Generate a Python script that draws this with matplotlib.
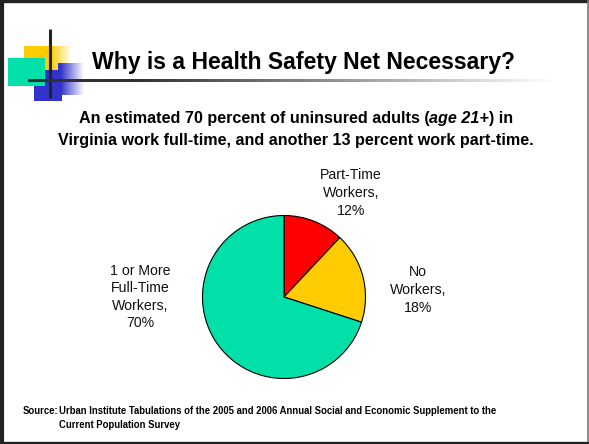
import numpy as np
import matplotlib
matplotlib.use("Agg")
import matplotlib.pyplot as plt
from matplotlib.colors import to_rgb

# data
categories = ["Part-Time\nWorkers,", "No\nWorkers,", "1 or More\nFull-Time\nWorkers,"]
shares = [12, 18, 70]
colors = ["#FF0000", "#FFCC00", "#00E0A8"]

title = "Why is a Health Safety Net Necessary?"
sub_a = "An estimated 70 percent of uninsured adults ("
sub_b = "age 21+"
sub_c = ") in"
sub_line2 = "Virginia work full-time, and another 13 percent work part-time."
source_tag = "Source:"
source_txt = ("Urban Institute Tabulations of the 2005 and 2006 Annual Social and Economic Supplement to the\n"
              "Current Population Survey")

plt.rcParams['font.family'] = ['Liberation Sans', 'DejaVu Sans']

W, H = 589, 444
fig = plt.figure(figsize=(W / 100, H / 100), dpi=100)

# pixel axes for slide decoration
deco = fig.add_axes([0, 0, 1, 1])
deco.set_xlim(0, W)
deco.set_ylim(H, 0)
deco.axis('off')


def grad_rect(ax, x0, x1, y0, y1, color, solid_frac=0.0, end=(1, 1, 1), z=1):
    # horizontal gradient from color to end colour
    n = 200
    c0 = np.array(to_rgb(color))
    c1 = np.array(end)
    t = np.linspace(0, 1, n)
    t = np.clip((t - solid_frac) / (1 - solid_frac), 0, 1)
    row = c0[None, :] * (1 - t[:, None]) + c1[None, :] * t[:, None]
    img = np.repeat(row[None, :, :], 2, axis=0)
    ax.imshow(img, extent=(x0, x1, y1, y0), aspect='auto', zorder=z, interpolation='bilinear')


grad_rect(deco, 24, 72, 46, 72, "#FFCC00", solid_frac=0.55, z=1)
grad_rect(deco, 58, 84, 63, 95, "#3333CC", solid_frac=0.1, z=2)
deco.fill_between([34, 62], 70, 101, color="#3333CC", lw=0, zorder=2)
deco.fill_between([8, 45], 58, 86, color="#00E0A8", lw=0, zorder=3)
deco.plot([50, 50], [29, 98], color="#222222", lw=2.2, zorder=5, solid_capstyle='butt')
grad_rect(deco, 28, 555, 79.5, 82.5, "#303030", solid_frac=0.2, z=5)
deco.set_xlim(0, W)
deco.set_ylim(H, 0)

# frame
deco.plot([1.5, 1.5], [0, H], color="#222222", lw=3, zorder=6)
deco.plot([0, W], [1.2, 1.2], color="#222222", lw=2.4, zorder=6)
deco.plot([W - 0.8, W - 0.8], [0, H], color="#777777", lw=1.2, zorder=6)
deco.plot([0, W], [H - 1.2, H - 1.2], color="#222222", lw=2.4, zorder=6)

deco.text(303, 62, title, fontsize=16.6, fontweight='bold', ha='center', va='center')

# subtitle with italic part
fs_sub = 11.6
t1 = deco.text(0, 118, sub_a, fontsize=fs_sub, fontweight='bold', va='center')
t2 = deco.text(0, 118, sub_b, fontsize=fs_sub, fontweight='bold', style='italic', va='center')
t3 = deco.text(0, 118, sub_c, fontsize=fs_sub, fontweight='bold', va='center')
fig.canvas.draw()
r = fig.canvas.get_renderer()
w1 = t1.get_window_extent(r).width
w2 = t2.get_window_extent(r).width
w3 = t3.get_window_extent(r).width
x = 296 - (w1 + w2 + w3) / 2
t1.set_x(x)
t2.set_x(x + w1)
t3.set_x(x + w1 + w2)
deco.text(296, 140, sub_line2, fontsize=fs_sub, fontweight='bold', ha='center', va='center')

deco.text(23, 411, source_tag, fontsize=6.85, fontweight='bold', va='center')
deco.text(59, 418, source_txt, fontsize=6.85, fontweight='bold', va='center', linespacing=1.45)

# pie
cx, cy, rad = 284, 297, 81.5
ax = fig.add_axes([(cx - rad) / W, (H - cy - rad) / H, 2 * rad / W, 2 * rad / H])
ax.pie(shares, colors=colors, startangle=90, counterclock=False,
       wedgeprops=dict(edgecolor='black', linewidth=0.8))
ax.set_xlim(-1, 1)
ax.set_ylim(-1, 1)
ax.set_aspect('equal')

label_pos = [(351, 193), (418, 290), (140, 297)]
for cat, s, (lx, ly) in zip(categories, shares, label_pos):
    deco.text(lx, ly, f"{cat}\n{s}%", fontsize=10.2, ha='center', va='center',
              linespacing=1.33, color='#111111')

fig.savefig("out.png", dpi=100)
